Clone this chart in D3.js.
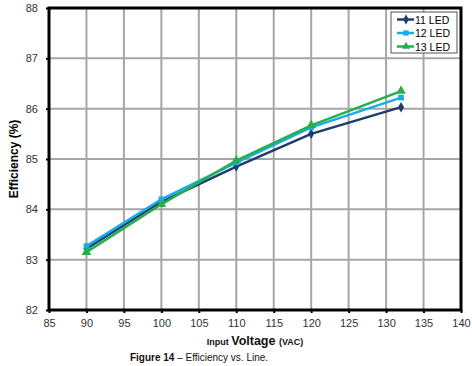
<!DOCTYPE html>
<html>
<head>
<meta charset="utf-8">
<script src="https://cdn.jsdelivr.net/npm/d3@7"></script>
<style>
  body { margin: 0; background: #fff; }
  text { font-family: Arial, "Liberation Sans", sans-serif; }
</style>
</head>
<body>
<div id="chart"></div>
<script>

var voltages = [90, 100, 110, 120, 132];
var led11 = [83.22, 84.15, 84.85, 85.50, 86.03];
var led12 = [83.27, 84.20, 84.93, 85.63, 86.22];
var led13 = [83.15, 84.10, 84.97, 85.67, 86.35];
var seriesNames = ["11 LED", "12 LED", "13 LED"];
var xTicks = [85, 90, 95, 100, 105, 110, 115, 120, 125, 130, 135, 140];
var yTicks = [82, 83, 84, 85, 86, 87, 88];

var width = 472, height = 366;
var marginleft = 49, plotright = 461, margintop = 8, plotbottom = 310;

var colors = ["#1f3c6e", "#16ade8", "#25b04b"];
var shapes = [d3.symbolDiamond, d3.symbolSquare, d3.symbolTriangle];

var svg = d3.select("#chart").append("svg")
  .attr("width", width)
  .attr("height", height);

var xScale = d3.scaleLinear().domain([85, 140]).range([marginleft, plotright]);
var yScale = d3.scaleLinear().domain([82, 88]).range([plotbottom, margintop]);

// grid
svg.append("g").selectAll("line")
  .data(xTicks.slice(1, -1))
  .enter().append("line")
  .attr("x1", function(d) { return xScale(d); })
  .attr("x2", function(d) { return xScale(d); })
  .attr("y1", margintop).attr("y2", plotbottom)
  .attr("stroke", "#a6a6a6").attr("stroke-width", 2);

svg.append("g").selectAll("line")
  .data(yTicks.slice(1, -1))
  .enter().append("line")
  .attr("y1", function(d) { return yScale(d); })
  .attr("y2", function(d) { return yScale(d); })
  .attr("x1", marginleft).attr("x2", plotright)
  .attr("stroke", "#a6a6a6").attr("stroke-width", 2);

// axes
var xaxis = svg.append("g")
  .attr("transform", "translate(0," + plotbottom + ")")
  .call(d3.axisBottom(xScale).tickValues(xTicks).tickFormat(d3.format("d")).tickSize(3).tickPadding(6));
var yaxis = svg.append("g")
  .attr("transform", "translate(" + marginleft + ",0)")
  .call(d3.axisLeft(yScale).tickValues(yTicks).tickFormat(d3.format("d")).tickSize(3).tickPadding(8));

[xaxis, yaxis].forEach(function(ax) {
  ax.select(".domain").remove();
  ax.selectAll("line").attr("stroke", "#000").attr("stroke-width", 2);
  ax.selectAll("text").attr("font-size", 11).attr("fill", "#333")
    .attr("font-family", "Arial, 'Liberation Sans', sans-serif");
});

// frame
svg.append("rect")
  .attr("x", marginleft).attr("y", margintop)
  .attr("width", plotright - marginleft).attr("height", plotbottom - margintop)
  .attr("fill", "none").attr("stroke", "#000").attr("stroke-width", 3);

// series
var allSeries = [led11, led12, led13];
var line = d3.line()
  .x(function(d, i) { return xScale(voltages[i]); })
  .y(function(d) { return yScale(d); });

allSeries.forEach(function(vals, k) {
  svg.append("path")
    .datum(vals)
    .attr("d", line)
    .attr("fill", "none")
    .attr("stroke", colors[k])
    .attr("stroke-width", 2.5);
  svg.append("g").selectAll("path")
    .data(vals)
    .enter().append("path")
    .attr("transform", function(d, i) { return "translate(" + xScale(voltages[i]) + "," + yScale(d) + ")"; })
    .attr("d", d3.symbol().type(shapes[k]).size(k == 2 ? 40 : 32))
    .attr("fill", colors[k]);
});

// legend
var legend = svg.append("g").attr("transform", "translate(391,12)");
legend.append("rect")
  .attr("width", 66).attr("height", 41)
  .attr("fill", "#fff").attr("stroke", "#555").attr("stroke-width", 1);
seriesNames.forEach(function(name, k) {
  var yy = 7.5 + k * 13.5;
  legend.append("line")
    .attr("x1", 6).attr("x2", 23).attr("y1", yy).attr("y2", yy)
    .attr("stroke", colors[k]).attr("stroke-width", 2.5);
  legend.append("path")
    .attr("transform", "translate(15," + yy + ")")
    .attr("d", d3.symbol().type(shapes[k]).size(28))
    .attr("fill", colors[k]);
  legend.append("text")
    .attr("x", 24).attr("y", yy + 4)
    .attr("font-size", 10.5).attr("fill", "#000")
    .text(name);
});

// axis titles
svg.append("text")
  .attr("transform", "translate(18," + ((margintop + plotbottom) / 2) + ") rotate(-90)")
  .attr("text-anchor", "middle")
  .attr("font-size", 12).attr("font-weight", "bold")
  .text("Efficiency (%)");

var xt = svg.append("text")
  .attr("x", 255).attr("y", 345)
  .attr("text-anchor", "middle")
  .attr("font-weight", "bold").attr("fill", "#111");
xt.append("tspan").attr("font-size", 9).text("Input ");
xt.append("tspan").attr("font-size", 12.5).text("Voltage ");
xt.append("tspan").attr("font-size", 9).text("(VAC)");

var cap = svg.append("text")
  .attr("x", 199).attr("y", 361)
  .attr("text-anchor", "middle")
  .attr("font-size", 10).attr("fill", "#111");
cap.append("tspan").attr("font-weight", "bold").text("Figure 14");
cap.append("tspan").text(" \u2013 Efficiency vs. Line.");

</script>
</body>
</html>
